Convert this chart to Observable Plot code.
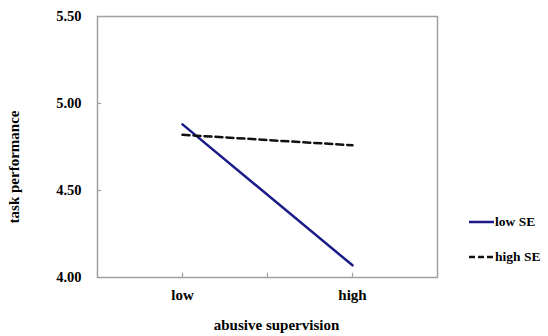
<!DOCTYPE html>
<html>
<head>
<meta charset="utf-8">
<script src="https://cdn.jsdelivr.net/npm/d3@7"></script>
<script src="https://cdn.jsdelivr.net/npm/@observablehq/plot@0.6"></script>
<style>
  html, body { margin: 0; padding: 0; background: #fff; }
  #wrap { position: relative; width: 548px; height: 336px; }
  .legend { position: absolute; left: 469px; font: bold 13.5px "Liberation Serif", "Times New Roman", serif; color: #000; display: flex; align-items: center; }
  .legend svg { margin-right: 1px; }
</style>
</head>
<body>
<div id="wrap"></div>
<script>
const categories = ["low", "high"];
const lowSE = [4.88, 4.07];
const highSE = [4.82, 4.76];
const yTicks = [4.00, 4.50, 5.00, 5.50];
const xTickMarks = [0, 0.5, 1];
const seriesNames = ["low SE", "high SE"];
const xTitle = "abusive supervision";
const yTitle = "task performance";

const data = [];
categories.forEach((c, i) => {
  data.push({x: i, cat: c, y: lowSE[i], s: seriesNames[0]});
  data.push({x: i, cat: c, y: highSE[i], s: seriesNames[1]});
});

const font = '"Liberation Serif", "Times New Roman", serif';

const chart = Plot.plot({
  width: 548,
  height: 336,
  marginLeft: 97,
  marginRight: 111,
  marginTop: 16,
  marginBottom: 59,
  style: {fontFamily: font, fontWeight: "bold", fontSize: "15px", background: "#fff", color: "#000"},
  x: {type: "linear", domain: [-0.5, 1.5]},
  y: {domain: [4, 5.5]},
  marks: [
    Plot.frame({stroke: "#a0a0a0", strokeWidth: 1.5}),
    Plot.ruleY(yTicks.slice(1, 3), {x1: -0.5, x2: -0.475, stroke: "#a0a0a0", strokeWidth: 1.2}),
    Plot.ruleX(xTickMarks, {y1: 4, y2: 4.025, stroke: "#a0a0a0", strokeWidth: 1.2}),
    Plot.axisY({ticks: yTicks, tickFormat: d3.format(".2f"), tickSize: 0, tickPadding: 16,
      label: null, fontSize: 14.5}),
    Plot.axisX({ticks: [0, 1], tickFormat: d => categories[d], tickSize: 0, tickPadding: 12,
      label: null, fontSize: 15}),
    Plot.text([xTitle], {frameAnchor: "bottom", text: d => d, dx: 9, dy: 52, fontSize: 15, fontWeight: "bold"}),
    Plot.text([yTitle], {frameAnchor: "left", textAnchor: "middle", text: d => d, rotate: -90, dx: -83, dy: 20, fontSize: 15, fontWeight: "bold"}),
    Plot.line(data.filter(d => d.s === seriesNames[0]), {x: "x", y: "y", stroke: "#1a1a8a", strokeWidth: 2.5}),
    Plot.line(data.filter(d => d.s === seriesNames[1]), {x: "x", y: "y", stroke: "#111", strokeWidth: 2.5, strokeDasharray: "7,4"})
  ]
});

const wrap = document.getElementById("wrap");
wrap.appendChild(chart);

const legendItems = [
  {name: seriesNames[0], color: "#1a1a8a", dash: null, top: 214},
  {name: seriesNames[1], color: "#111", dash: "6,3", top: 249}
];
legendItems.forEach(it => {
  const div = document.createElement("div");
  div.className = "legend";
  div.style.top = it.top + "px";
  div.innerHTML = `<svg width="25" height="16"><line x1="0" y1="8" x2="25" y2="8" stroke="${it.color}" stroke-width="2.5" ${it.dash ? `stroke-dasharray="${it.dash}"` : ""}/></svg><span>${it.name}</span>`;
  wrap.appendChild(div);
});
</script>
</body>
</html>
